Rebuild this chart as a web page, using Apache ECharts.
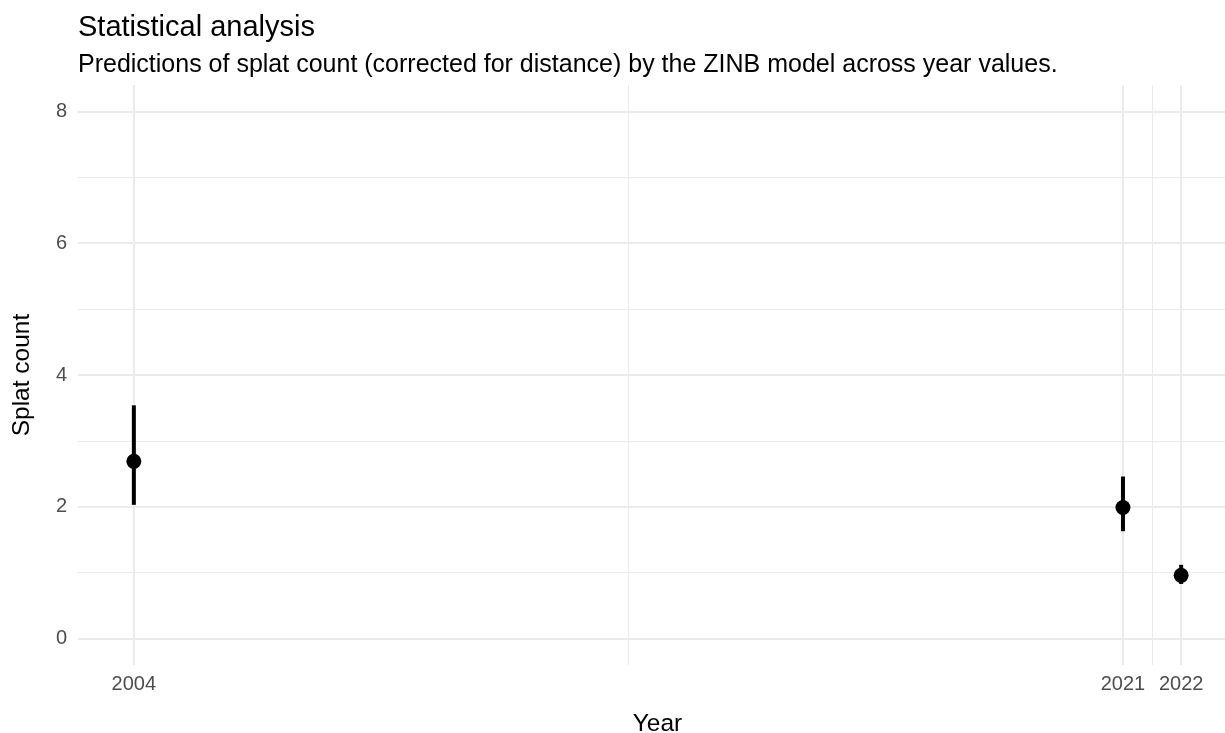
<!DOCTYPE html>
<html>
<head>
<meta charset="utf-8">
<title>Statistical analysis</title>
<script src="https://cdn.jsdelivr.net/npm/echarts@6/dist/echarts.min.js"></script>
<style>
  html, body { margin: 0; padding: 0; background: #fff; }
  #main { width: 1225px; height: 733px; }
</style>
</head>
<body>
<div id="main"></div>
<script>
// data
const years = [2004, 2021, 2022];
const predicted = [2.69, 1.99, 0.96];
const lower = [2.03, 1.63, 0.83];
const upper = [3.54, 2.46, 1.12];

// axis breaks
const xBreaks = [2004, 2021, 2022];
const xMinorBreaks = [2012.5, 2021.5];
const yBreaks = [0, 2, 4, 6, 8];
const yMinorBreaks = [1, 3, 5, 7];

const font = 'Liberation Sans, Arial, sans-serif';
const gridColor = '#ebebeb';

let chart = echarts.init(document.getElementById('main'));

let option = {
  animation: false,
  textStyle: { fontFamily: font },
  title: [{
    text: 'Statistical analysis',
    left: 73,
    top: 8,
    textStyle: { fontSize: 29, fontWeight: 'normal', color: '#000', fontFamily: font }
  }, {
    text: 'Predictions of splat count (corrected for distance) by the ZINB model across year values.',
    left: 73,
    top: 48,
    textStyle: { fontSize: 25, fontWeight: 'normal', color: '#000', fontFamily: font }
  }],
  grid: {
    left: 78,
    right: -12,
    top: 85,
    bottom: 68,
    outerBoundsMode: 'none',
    containLabel: false
  },
  xAxis: [{
    type: 'value',
    min: 2003.04,
    max: 2022.96,
    name: 'Year',
    nameLocation: 'middle',
    nameGap: 47,
    nameTextStyle: { fontSize: 24.5, color: '#000', fontFamily: font },
    axisLine: { show: false },
    axisTick: { show: false, customValues: xBreaks },
    axisLabel: {
      customValues: xBreaks,
      margin: 9,
      fontSize: 20,
      color: '#4d4d4d',
      fontFamily: font,
      formatter: v => String(v)
    },
    splitLine: { show: true, lineStyle: { color: gridColor, width: 2 } },
    z: 2
  }, {
    type: 'value',
    min: 2003.04,
    max: 2022.96,
    axisLine: { show: false },
    axisTick: { show: false, customValues: xMinorBreaks },
    axisLabel: { show: false, customValues: xMinorBreaks },
    splitLine: { show: true, lineStyle: { color: gridColor, width: 1 } },
    z: 1
  }],
  yAxis: [{
    type: 'value',
    min: -0.4,
    max: 8.4,
    name: 'Splat count',
    nameLocation: 'middle',
    nameGap: 43,
    nameRotate: 90,
    nameTextStyle: { fontSize: 24.5, color: '#000', fontFamily: font },
    axisLine: { show: false },
    axisTick: { show: false, customValues: yBreaks },
    axisLabel: {
      customValues: yBreaks,
      margin: 11,
      fontSize: 20,
      color: '#4d4d4d',
      fontFamily: font
    },
    splitLine: { show: true, lineStyle: { color: gridColor, width: 2 } },
    z: 2
  }, {
    type: 'value',
    min: -0.4,
    max: 8.4,
    axisLine: { show: false },
    axisTick: { show: false, customValues: yMinorBreaks },
    axisLabel: { show: false, customValues: yMinorBreaks },
    splitLine: { show: true, lineStyle: { color: gridColor, width: 1 } },
    z: 1
  }],
  series: [{
    name: 'interval',
    type: 'custom',
    xAxisIndex: 0,
    yAxisIndex: 0,
    data: years.map((y, i) => [y, lower[i], upper[i]]),
    renderItem: function (params, api) {
      let lo = api.coord([api.value(0), api.value(1)]);
      let hi = api.coord([api.value(0), api.value(2)]);
      return {
        type: 'line',
        shape: { x1: lo[0], y1: lo[1], x2: hi[0], y2: hi[1] },
        style: { stroke: '#000', lineWidth: 4 }
      };
    },
    z: 3
  }, {
    name: 'prediction',
    type: 'scatter',
    xAxisIndex: 0,
    yAxisIndex: 0,
    symbol: 'circle',
    symbolSize: 15,
    itemStyle: { color: '#000', opacity: 1 },
    data: years.map((y, i) => [y, predicted[i]]),
    z: 4
  }]
};

chart.setOption(option);
</script>
</body>
</html>
